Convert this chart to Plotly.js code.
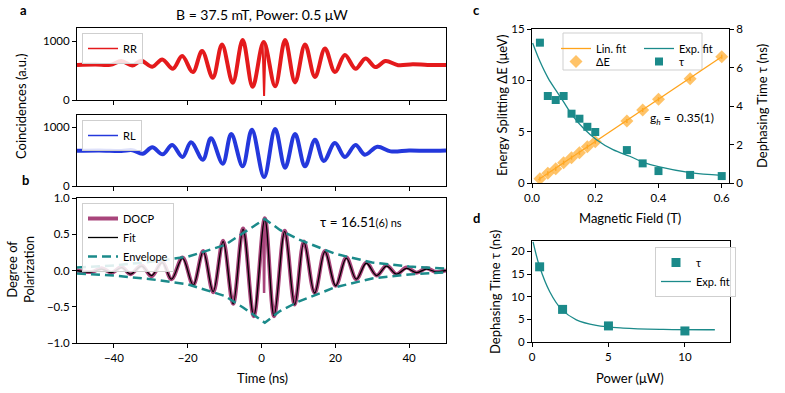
<!DOCTYPE html>
<html>
<head>
<meta charset="utf-8">
<script src="https://cdn.plot.ly/plotly-3.0.1.min.js"></script>
<style>
  body { margin: 0; background: #fff; }
  #plot { width: 785px; height: 393px; }
</style>
</head>
<body>
<div id="plot"></div>
<script>
// ---- a: RR / RL coincidences (turning points) ----
const rrTime = [-50, -45, -41, -38, -35, -32.6, -29.6, -26.9, -24, -21.5, -18.6, -16.1, -13.2, -10.7, -7.8, -5.1, -2.4, 0.6,
                3.7, 6.4, 9.1, 11.8, 14.5, 17.2, 19.9, 22.6, 25.5, 28.2, 30.9, 33.6, 37, 41, 45, 50];
const rrCounts = [600, 605, 600, 665, 590, 670, 568, 693, 534, 750, 477, 835, 380, 949, 295, 1023, 227, 990,
                  233, 1023, 301, 949, 392, 880, 477, 767, 534, 710, 562, 665, 595, 610, 600, 600];
const rrDipTime = [0.3, 0.7, 1.1];
const rrDipCounts = [960, 68, 960];

const rlTime = [-50, -44, -38, -35, -32.2, -29.6, -26.8, -24.2, -21.4, -19.1, -15.9, -13.7, -10.5, -8.2, -5.1, -2.6, 0.7,
                3.7, 6.4, 9.1, 11.8, 14.5, 16.9, 19.9, 22.6, 25.5, 28, 31.4, 35, 40, 45, 50];
const rlCounts = [600, 605, 598, 610, 551, 659, 540, 699, 494, 744, 449, 812, 381, 886, 335, 960, 153,
                  972, 313, 886, 335, 790, 426, 733, 494, 699, 534, 670, 590, 605, 600, 605];

// ---- b: degree of polarization ----
const docpTime = [-50, -46, -43.3, -40.6, -37.9, -35.5, -32.5, -29.8, -26.9, -24.4, -21.4, -18.5, -15.8, -13.1, -10.4, -7.7, -5.0, -2.1, 0.9,
                  3.4, 6.3, 9.0, 11.5, 14.4, 17.2, 20.1, 23.0, 25.7, 28.4, 31.2, 33.9, 36.6, 39.3, 42.0, 44.7, 47.4, 50];
const docpValue = [0, -0.02, 0.03, -0.03, 0.05, -0.05, 0.07, -0.08, 0.12, -0.12, 0.18, -0.2, 0.27, -0.3, 0.41, -0.46, 0.58, -0.63, 0.72,
                   -0.63, 0.55, -0.47, 0.4, -0.31, 0.27, -0.21, 0.18, -0.12, 0.11, -0.07, 0.07, -0.05, 0.04, -0.03, 0.03, -0.02, 0];
const docpDipTime = [0.5, 0.7, 0.9];
const docpDipValue = [0.6, -0.31, 0.6];
const fitValue = [0, -0.02, 0.02, -0.03, 0.04, -0.05, 0.06, -0.07, 0.11, -0.12, 0.17, -0.2, 0.26, -0.29, 0.40, -0.46, 0.57, -0.625, 0.71,
                  -0.625, 0.54, -0.47, 0.39, -0.31, 0.26, -0.21, 0.17, -0.12, 0.10, -0.07, 0.06, -0.05, 0.03, -0.03, 0.02, -0.02, 0];
const envTime = [-50, -40, -30, -20, -10, -5, 0.9, 5, 10, 20, 30, 40, 50];
const envUpper = [0.04, 0.07, 0.12, 0.19, 0.35, 0.51, 0.71, 0.56, 0.43, 0.23, 0.11, 0.055, 0.025];
const envLower = [-0.04, -0.07, -0.12, -0.19, -0.35, -0.51, -0.72, -0.56, -0.43, -0.23, -0.11, -0.055, -0.025];

// ---- c: splitting and dephasing vs magnetic field ----
const bField = [0.025, 0.05, 0.075, 0.1, 0.125, 0.15, 0.175, 0.2, 0.3, 0.35, 0.4, 0.5, 0.6];
const splitting = [0.42, 0.94, 1.39, 1.98, 2.47, 2.95, 3.54, 4.02, 6.04, 7.11, 8.15, 10.16, 12.3];
const splitErr = [0.2, 0.2, 0.2, 0.2, 0.2, 0.2, 0.2, 0.2, 0.2, 0.2, 0.2, 0.2, 0.2];
const tauField = [7.29, 4.52, 4.31, 4.52, 3.6, 3.34, 2.92, 2.65, 1.71, 1.02, 0.62, 0.42, 0.36];
const linFitB = [0.02, 0.6];
const linFitE = [0.31, 12.3];
const expFitB = [0.002, 0.025, 0.051, 0.078, 0.099, 0.13, 0.162, 0.204, 0.256, 0.309, 0.35, 0.4, 0.5, 0.6];
const expFitTau = [7.27, 6.32, 5.45, 4.76, 4.24, 3.46, 2.86, 2.25, 1.73, 1.39, 1.09, 0.85, 0.54, 0.40];

// ---- d: dephasing vs power ----
const power = [0.5, 2, 5, 10];
const tauPower = [16.6, 7.2, 3.55, 2.44];
const tauPowerErr = [0.3, 0.2, 0.1, 0.1];
const expFitP = [0.07, 0.5, 1.16, 1.92, 2.9, 4.2, 5.96, 8.58, 11.96];
const expFitTauP = [22.1, 16.6, 11.1, 7.25, 4.9, 3.67, 3.08, 2.79, 2.70];

const RED = '#e41a1c', BLUE = '#2438dc', DOCP = '#a8457b', TEAL = '#1b8a8a', ORANGE = '#ffa31a';

// figure is laid out in pixels, converted to paper fractions
const W = 785, H = 393;
const px = v => v / W;
const py = v => 1 - v / H;

const traces = [
  { x: rrTime, y: rrCounts, xaxis: 'x', yaxis: 'y', mode: 'lines', showlegend: false,
    line: { color: RED, width: 4, shape: 'spline', smoothing: 1 } },
  { x: rrDipTime, y: rrDipCounts, xaxis: 'x', yaxis: 'y', mode: 'lines', showlegend: false,
    line: { color: RED, width: 2 } },
  // legend entry only (thin sample like the original)
  { x: [null], y: [null], xaxis: 'x', yaxis: 'y', mode: 'lines', name: 'RR', legend: 'legend',
    line: { color: RED, width: 1.5 } },
  { x: rlTime, y: rlCounts, xaxis: 'x2', yaxis: 'y2', mode: 'lines', showlegend: false,
    line: { color: BLUE, width: 4, shape: 'spline', smoothing: 1 } },
  { x: [null], y: [null], xaxis: 'x2', yaxis: 'y2', mode: 'lines', name: 'RL', legend: 'legend2',
    line: { color: BLUE, width: 1.5 } },
  { x: docpTime, y: docpValue, xaxis: 'x3', yaxis: 'y3', mode: 'lines', name: 'DOCP', legend: 'legend3',
    line: { color: DOCP, width: 4, shape: 'spline', smoothing: 1 } },
  { x: docpDipTime, y: docpDipValue, xaxis: 'x3', yaxis: 'y3', mode: 'lines', showlegend: false,
    line: { color: DOCP, width: 2.5 } },
  { x: docpTime, y: fitValue, xaxis: 'x3', yaxis: 'y3', mode: 'lines', name: 'Fit', legend: 'legend3',
    line: { color: '#000', width: 1.3, shape: 'spline', smoothing: 1 } },
  { x: envTime, y: envUpper, xaxis: 'x3', yaxis: 'y3', mode: 'lines', name: 'Envelope', legend: 'legend3',
    line: { color: TEAL, width: 2.5, dash: '9px,5px' } },
  { x: envTime, y: envLower, xaxis: 'x3', yaxis: 'y3', mode: 'lines', showlegend: false,
    line: { color: TEAL, width: 2.5, dash: '9px,5px' } },
  { x: linFitB, y: linFitE, xaxis: 'x4', yaxis: 'y4', mode: 'lines', name: 'Lin. fit', legend: 'legend4',
    line: { color: ORANGE, width: 1.3 } },
  { x: expFitB, y: expFitTau, xaxis: 'x4', yaxis: 'y5', mode: 'lines', name: 'Exp. fit', legend: 'legend4',
    line: { color: TEAL, width: 1.3, shape: 'spline', smoothing: 1 } },
  { x: bField, y: splitting, xaxis: 'x4', yaxis: 'y4', mode: 'markers', name: 'ΔE', legend: 'legend5',
    error_y: { type: 'data', array: splitErr, color: ORANGE, thickness: 1.5, width: 0 },
    marker: { symbol: 'diamond', size: 10, color: 'rgba(255,170,40,0.7)', line: { width: 0 } } },
  { x: bField, y: tauField, xaxis: 'x4', yaxis: 'y5', mode: 'markers', name: 'τ', legend: 'legend5',
    marker: { symbol: 'square', size: 8, color: TEAL } },
  { x: power, y: tauPower, xaxis: 'x5', yaxis: 'y6', mode: 'markers', name: 'τ', legend: 'legend6',
    error_y: { type: 'data', array: tauPowerErr, color: TEAL, thickness: 1.5, width: 0 },
    marker: { symbol: 'square', size: 9, color: TEAL } },
  { x: expFitP, y: expFitTauP, xaxis: 'x5', yaxis: 'y6', mode: 'lines', name: 'Exp. fit', legend: 'legend6',
    line: { color: TEAL, width: 1.3, shape: 'spline', smoothing: 1 } }
];

const ax = {
  showline: true, linecolor: '#000', linewidth: 1, mirror: true,
  ticks: 'outside', ticklen: 4, tickwidth: 1, tickcolor: '#000',
  showgrid: false, zeroline: false, tickfont: { size: 11.5 }
};
const timeTicks = [-40, -20, 0, 20, 40];

const legendBox = { xanchor: 'left', yanchor: 'top', bgcolor: 'rgba(255,255,255,0.85)',
  bordercolor: '#cfcfcf', borderwidth: 1, font: { size: 11 }, tracegroupgap: 0 };

// text placed in pixels
function label(text, x, y, size, angle) {
  return { text: text, x: px(x), y: py(y), xref: 'paper', yref: 'paper', xanchor: 'center', yanchor: 'middle',
    showarrow: false, textangle: angle || 0, font: { size: size } };
}

const layout = {
  width: W, height: H,
  margin: { l: 0, r: 0, t: 0, b: 0 },
  paper_bgcolor: '#fff', plot_bgcolor: 'rgba(0,0,0,0)',
  font: { family: 'Lato, "Open Sans", sans-serif', size: 12, color: '#000' },
  showlegend: true,
  xaxis: Object.assign({}, ax, { domain: [px(77), px(446)], anchor: 'y', range: [-50, 50],
    tickvals: timeTicks, showticklabels: false }),
  yaxis: Object.assign({}, ax, { domain: [py(100), py(28)], anchor: 'x', range: [0, 1230], tickvals: [0, 1000] }),
  xaxis2: Object.assign({}, ax, { domain: [px(77), px(446)], anchor: 'y2', range: [-50, 50],
    tickvals: timeTicks, showticklabels: false }),
  yaxis2: Object.assign({}, ax, { domain: [py(186), py(115)], anchor: 'x2', range: [0, 1210], tickvals: [0, 1000] }),
  xaxis3: Object.assign({}, ax, { domain: [px(77), px(446)], anchor: 'y3', range: [-50, 50], tickvals: timeTicks }),
  yaxis3: Object.assign({}, ax, { domain: [py(343), py(198)], anchor: 'x3', range: [-1, 1],
    tickvals: [-1, -0.5, 0, 0.5, 1], tickformat: '.1f' }),
  xaxis4: Object.assign({}, ax, { domain: [px(532), px(729)], anchor: 'y4', range: [0, 0.623],
    tickvals: [0, 0.2, 0.4, 0.6], tickformat: '.1f' }),
  yaxis4: Object.assign({}, ax, { domain: [py(183), py(29)], anchor: 'x4', range: [0, 15], tickvals: [0, 5, 10, 15] }),
  yaxis5: Object.assign({}, ax, { overlaying: 'y4', side: 'right', anchor: 'x4', range: [0, 8], mirror: false,
    tickvals: [0, 2, 4, 6, 8] }),
  xaxis5: Object.assign({}, ax, { domain: [px(532), px(730)], anchor: 'y6', range: [0, 12.95], tickvals: [0, 5, 10] }),
  yaxis6: Object.assign({}, ax, { domain: [py(342), py(241)], anchor: 'x5', range: [0, 22.3],
    tickvals: [0, 5, 10, 15, 20] }),
  legend: Object.assign({}, legendBox, { x: px(82), y: py(33) }),
  legend2: Object.assign({}, legendBox, { x: px(82), y: py(120) }),
  legend3: Object.assign({}, legendBox, { x: px(82), y: py(203) }),
  legend4: { x: px(556), y: py(34), xanchor: 'left', yanchor: 'top', orientation: 'h',
    bgcolor: 'rgba(0,0,0,0)', font: { size: 11 }, entrywidth: 38, entrywidthmode: 'pixels' },
  legend5: { x: px(556), y: py(47), xanchor: 'left', yanchor: 'top', orientation: 'h',
    bgcolor: 'rgba(0,0,0,0)', font: { size: 11 }, entrywidth: 38, entrywidthmode: 'pixels' },
  legend6: Object.assign({}, legendBox, { x: px(655), y: py(247) }),
  shapes: [
    { type: 'rect', xref: 'paper', yref: 'paper', x0: px(563), x1: px(702), y0: py(70), y1: py(33),
      line: { color: '#cfcfcf', width: 1 }, fillcolor: 'rgba(255,255,255,0.85)', layer: 'below' }
  ],
  annotations: [
    label('<b>a</b>', 23, 10, 13),
    label('<b>b</b>', 25, 180, 13),
    label('<b>c</b>', 476, 10, 13),
    label('<b>d</b>', 476, 218, 13),
    label('B = 37.5 mT, Power: 0.5 μW', 262, 15, 14),
    label('Coincidences (a.u.)', 21, 107, 13, -90),
    label('Degree of<br>Polarization', 20, 270, 13, -90),
    label('Time (ns)', 262, 378, 13),
    label('Magnetic Field (T)', 630, 218, 13),
    label('Energy Splitting ΔE (μeV)', 502, 106, 13, -90),
    label('Dephasing Time τ (ns)', 762, 106, 13, -90),
    label('Power (μW)', 630, 378, 13),
    label('Dephasing Time τ (ns)', 495, 292, 13, -90),
    label('τ = 16.51<span style="font-size:11px">(6) ns</span>', 361, 222, 13.5),
    label('g<sub><i>h</i></sub> =  0.35(1)', 682, 118, 12)
  ]
};

Plotly.newPlot('plot', traces, layout, { displayModeBar: false, staticPlot: true });
</script>
</body>
</html>
